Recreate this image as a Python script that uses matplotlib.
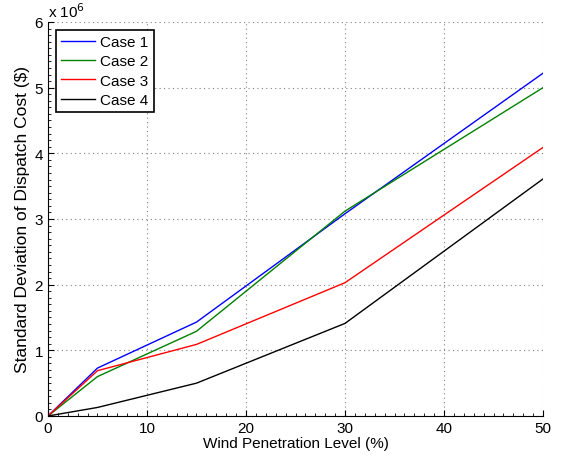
import matplotlib.pyplot as plt
from matplotlib import ticker

plt.rcParams['font.family'] = ['Liberation Sans', 'DejaVu Sans']

# Wind penetration level (%)
penetration = [0, 5, 15, 30, 50]

# Standard deviation of dispatch cost ($)
case1 = [0, 0.73e6, 1.43e6, 3.08e6, 5.22e6]
case2 = [0, 0.60e6, 1.29e6, 3.12e6, 5.00e6]
case3 = [0, 0.69e6, 1.09e6, 2.03e6, 4.09e6]
case4 = [0, 0.13e6, 0.50e6, 1.41e6, 3.61e6]

series = [
    ("Case 1", case1, "#0000ff"),
    ("Case 2", case2, "#008000"),
    ("Case 3", case3, "#ff0000"),
    ("Case 4", case4, "#000000"),
]

fig = plt.figure(figsize=(5.68, 4.6), dpi=100)
ax = fig.add_axes([0.0845, 0.0935, 0.8715, 0.8565])

for name, vals, col in series:
    ax.plot(penetration, vals, color=col, linewidth=1.0, label=name)

ax.set_xlim(0, 50)
ax.set_ylim(0, 6e6)
ax.set_xticks(range(0, 51, 10))
ax.set_yticks([i * 1e6 for i in range(7)])
ax.yaxis.set_major_formatter(ticker.FuncFormatter(lambda v, pos: f"{v / 1e6:g}"))
ax.xaxis.set_minor_locator(ticker.AutoMinorLocator(10))
ax.yaxis.set_minor_locator(ticker.AutoMinorLocator(10))
ax.tick_params(which='both', direction='in', labelsize=11)
ax.tick_params(which='major', length=4)
ax.tick_params(which='minor', length=2)

ax.grid(True, which='major', linestyle=(0, (1, 3)), color='#808080', linewidth=0.8)
ax.spines['top'].set_visible(False)
ax.spines['right'].set_visible(False)

ax.set_xlabel("Wind Penetration Level (%)", fontsize=11, labelpad=1)
ax.set_ylabel("Standard Deviation of Dispatch Cost ($)", fontsize=12.5, labelpad=3)
ax.text(0.0, 1.005, r"x 10$^{6}$", transform=ax.transAxes, fontsize=11,
        ha='left', va='bottom')

leg = ax.legend(loc='upper left', fontsize=11, fancybox=False, framealpha=1,
                edgecolor='black', borderaxespad=0.5, handlelength=2.2,
                handletextpad=0.35, labelspacing=0.35, borderpad=0.35)
leg.get_frame().set_linewidth(1.2)

fig.savefig("out.png", dpi=100)
